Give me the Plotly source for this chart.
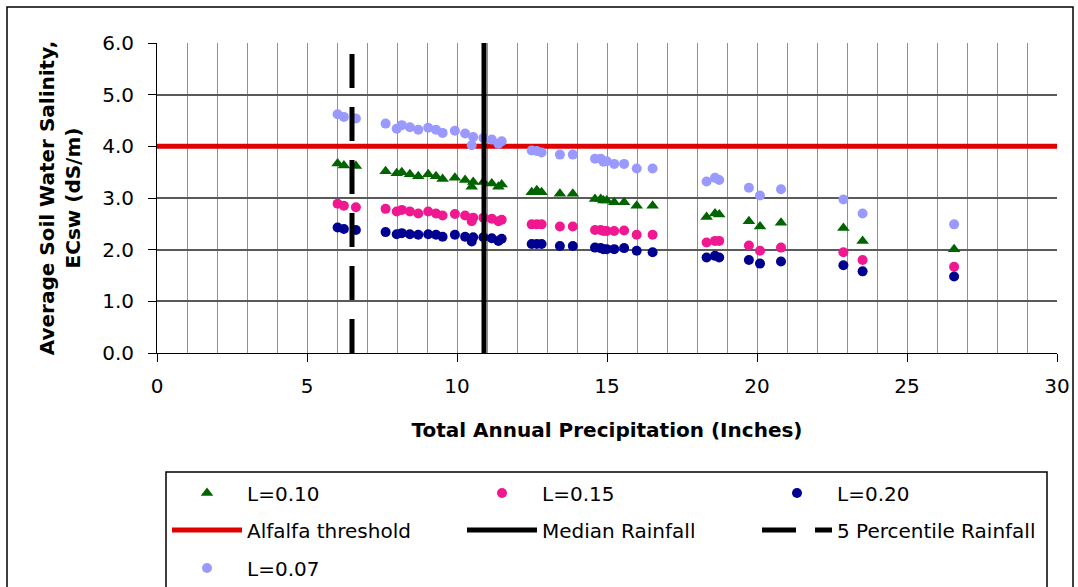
import plotly.graph_objects as go

# precipitation (inches) shared by all leaching-fraction series
precip = [6.02, 6.23, 6.63,
          7.62, 7.99, 8.16, 8.43, 8.71, 9.04, 9.30, 9.52, 9.93, 10.27, 10.49, 10.54, 10.88, 11.16, 11.38, 11.49,
          12.49, 12.66, 12.82, 13.43, 13.86,
          14.60, 14.79, 14.88, 14.99, 15.24, 15.57, 15.99, 16.52,
          18.32, 18.60, 18.74, 19.73, 20.10, 20.80,
          22.88, 23.52, 26.57]

ec_l07 = [4.62, 4.57, 4.54,
          4.44, 4.34, 4.41, 4.37, 4.32, 4.36, 4.32, 4.26, 4.30, 4.25, 4.02, 4.18, 4.16, 4.13, 4.05, 4.10,
          3.92, 3.91, 3.88, 3.84, 3.84,
          3.76, 3.76, 3.70, 3.71, 3.66, 3.66, 3.57, 3.57,
          3.32, 3.39, 3.35, 3.20, 3.05, 3.17,
          2.97, 2.70, 2.49]

ec_l10 = [3.67, 3.63, 3.62,
          3.52, 3.48, 3.50, 3.46, 3.42, 3.46, 3.42, 3.37, 3.39, 3.35, 3.22, 3.31, 3.31, 3.28, 3.22, 3.26,
          3.11, 3.15, 3.11, 3.08, 3.08,
          2.98, 2.98, 2.95, 2.95, 2.92, 2.92, 2.85, 2.85,
          2.63, 2.70, 2.68, 2.55, 2.45, 2.52,
          2.42, 2.17, 2.01]

ec_l15 = [2.89, 2.85, 2.82,
          2.79, 2.74, 2.77, 2.74, 2.70, 2.74, 2.70, 2.66, 2.69, 2.66, 2.55, 2.62, 2.62, 2.60, 2.55, 2.58,
          2.49, 2.49, 2.49, 2.45, 2.45,
          2.38, 2.38, 2.36, 2.36, 2.36, 2.37, 2.29, 2.29,
          2.14, 2.17, 2.17, 2.08, 1.98, 2.04,
          1.95, 1.80, 1.67]

ec_l20 = [2.43, 2.40, 2.38,
          2.34, 2.30, 2.32, 2.30, 2.29, 2.30, 2.29, 2.25, 2.29, 2.25, 2.16, 2.24, 2.24, 2.22, 2.17, 2.21,
          2.11, 2.11, 2.11, 2.07, 2.07,
          2.04, 2.03, 2.01, 2.01, 2.01, 2.03, 1.98, 1.95,
          1.85, 1.88, 1.85, 1.80, 1.73, 1.77,
          1.70, 1.58, 1.48]

alfalfa_threshold = 4.0
median_rain = 10.9
pct5_rain = 6.5
x_range = [0, 30]
y_range = [0, 6]

FONT = "DejaVu Sans"

fig = go.Figure()

fig.add_trace(go.Scatter(x=x_range, y=[alfalfa_threshold, alfalfa_threshold], mode='lines',
                         name='Alfalfa threshold', line=dict(color='#e00000', width=5),
                         legend='legend2'))
fig.add_trace(go.Scatter(x=precip, y=ec_l07, mode='markers', name='L=0.07',
                         marker=dict(symbol='circle', size=10, color='#9999ff'), legend='legend3'))
fig.add_trace(go.Scatter(x=precip, y=ec_l10, mode='markers', name='L=0.10',
                         marker=dict(symbol='triangle-up', size=11, color='#006400'), legend='legend'))
fig.add_trace(go.Scatter(x=precip, y=ec_l15, mode='markers', name='L=0.15',
                         marker=dict(symbol='circle', size=10, color='#f01890'), legend='legend'))
fig.add_trace(go.Scatter(x=precip, y=ec_l20, mode='markers', name='L=0.20',
                         marker=dict(symbol='circle', size=10, color='#000090'), legend='legend'))
fig.add_trace(go.Scatter(x=[median_rain, median_rain], y=y_range, mode='lines', name='Median Rainfall',
                         line=dict(color='black', width=5), legend='legend2'))
fig.add_trace(go.Scatter(x=[pct5_rain, pct5_rain], y=y_range, mode='lines', name='5 Percentile Rainfall',
                         line=dict(color='black', width=5, dash='34px,19px'), legend='legend2'))

# pixel helpers for plot area: x 157..1057, y 43..353
def px_x(p):
    return (p - 157) / 900.0

def px_y(p):
    return (353 - p) / 310.0

leg = dict(orientation='h', xanchor='left', yanchor='middle', x=px_x(167),
           font=dict(family=FONT, size=20, color='black'), bgcolor='rgba(0,0,0,0)',
           itemwidth=70, entrywidth=210, entrywidthmode='pixels', itemclick=False)

fig.update_layout(
    width=1078, height=587,
    margin=dict(l=157, r=21, t=43, b=234, autoexpand=False),
    paper_bgcolor='white', plot_bgcolor='white',
    font=dict(family=FONT, size=20, color='black'),
    legend=dict(leg, y=px_y(493)),
    legend2=dict(leg, y=px_y(530)),
    legend3=dict(leg, y=px_y(568)),
    xaxis=dict(range=x_range, dtick=5, tick0=0, showgrid=True, gridcolor='#909090', gridwidth=1.2,
               minor=dict(dtick=1, showgrid=True, gridcolor='#909090', gridwidth=1.2),
               showline=True, linecolor='black', linewidth=1, ticks='outside', ticklen=8,
               tickcolor='black', zeroline=False, ticklabelstandoff=7,
               title=dict(text='<b>Total Annual Precipitation (Inches)</b>', standoff=25,
                          font=dict(family=FONT, size=20))),
    yaxis=dict(range=y_range, dtick=1, tick0=0, tickformat='.1f', showgrid=True,
               gridcolor='#5a5a5a', gridwidth=1.5, showline=True, linecolor='black', linewidth=1,
               ticks='outside', ticklen=8, tickcolor='black', zeroline=False, ticklabelstandoff=10,
               title=dict(text='<b>Average Soil Water Salinity,<br>ECsw (dS/m)</b>', standoff=16,
                          font=dict(family=FONT, size=20))),
    shapes=[
        dict(type='rect', xref='paper', yref='paper', x0=px_x(7), x1=px_x(1073), y0=px_y(620), y1=px_y(7),
             line=dict(color='black', width=1.5), layer='below'),
        dict(type='rect', xref='paper', yref='paper', x0=px_x(166), x1=px_x(1047), y0=px_y(620), y1=px_y(472),
             line=dict(color='black', width=1.5), layer='below'),
    ],
)

fig.write_html("out.html", config={'displayModeBar': False},
               post_script="document.body.style.margin='0';")
